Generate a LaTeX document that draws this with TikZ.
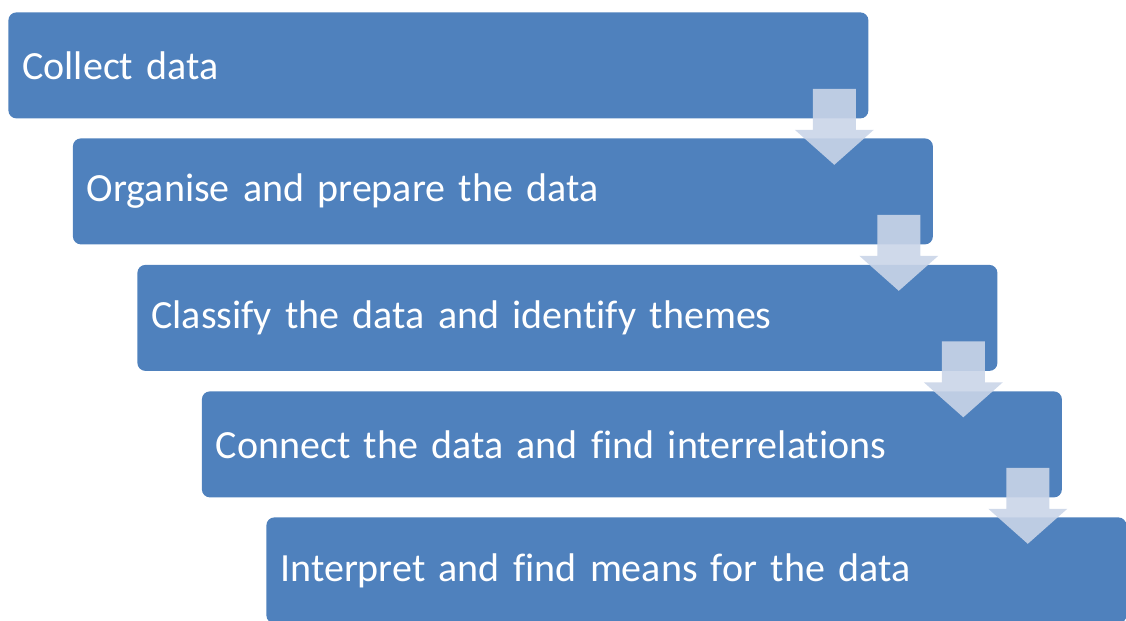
\documentclass[tikz,border=0pt]{standalone}
\usepackage{fontspec}
\setmainfont{Carlito}[Ligatures=NoCommon, WordSpace=0.9]
\usetikzlibrary{calc}
\definecolor{stepblue}{RGB}{79,129,189}
\definecolor{flowarrow}{RGB}{202,213,232}
\tikzset{
  stepbox/.style={rectangle, rounded corners=4pt, fill=stepblue, draw=none,
    anchor=north west, minimum width=430pt, minimum height=53pt,
    text width=416pt, inner xsep=7pt, inner ysep=0pt, align=left,
    text=white, font=\fontsize{20}{24}\selectfont},
  flowarrow/.style={fill=flowarrow, fill opacity=0.9, draw=none}
}
% down arrow linking the lower right corner of one step to the next
\newcommand{\steparrow}[1]{%
  \fill[flowarrow]
    ($(#1.south east)+(-56,-30)$) -- ($(#1.south east)+(-13,-30)$) --
    ($(#1.south east)+(-13,11)$) -- ($(#1.south east)+(5,11)$) --
    ($(#1.south east)+(-34.5,46)$) -- ($(#1.south east)+(-74,11)$) --
    ($(#1.south east)+(-56,11)$) -- cycle;}
\begin{document}
\begin{tikzpicture}[x=0.5pt, y=-0.5pt]
  \useasboundingbox (0,0) rectangle (1126,621);
  \begin{scope}
    \clip (0,0) rectangle (1126,621);
    \node[stepbox] (s1) at (8,12)    {Collect data};
    \node[stepbox] (s2) at (72.5,138) {Organise and prepare the data};
    \node[stepbox] (s3) at (137,264.5) {Classify the data and identify themes};
    \node[stepbox] (s4) at (201.5,391) {Connect the data and find interrelations};
    \node[stepbox] (s5) at (266,517) {Interpret and find means for the data};
    \steparrow{s1}
    \steparrow{s2}
    \steparrow{s3}
    \steparrow{s4}
  \end{scope}
\end{tikzpicture}
\end{document}
